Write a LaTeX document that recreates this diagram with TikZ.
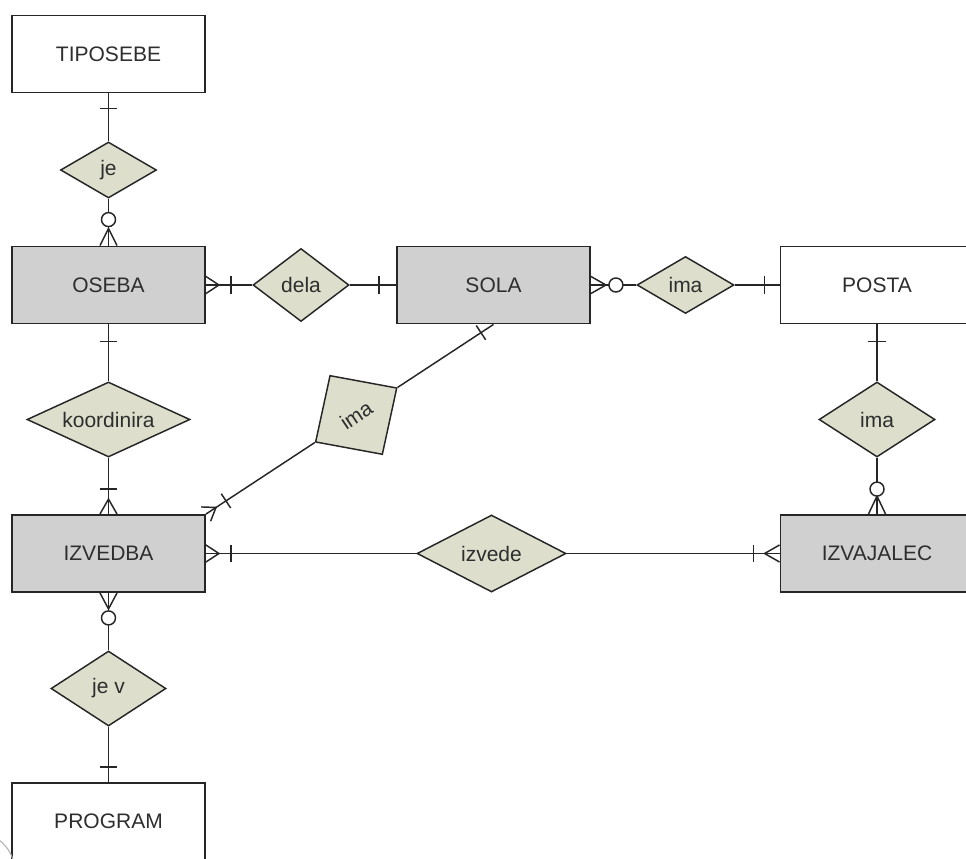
\documentclass[tikz,border=0pt]{standalone}
\usepackage{fontspec}
\setmainfont{Liberation Sans}
\usetikzlibrary{shapes.geometric,calc,decorations.markings}
\definecolor{linec}{HTML}{262626}
\definecolor{textc}{HTML}{2E2E2E}
\definecolor{entg}{HTML}{D0D0D0}
\definecolor{relc}{HTML}{DDDFCC}
\tikzset{
  lbl/.style={font=\fontsize{15.75pt}{18pt}\selectfont, text=textc},
  ent/.style={lbl, rectangle, draw=linec, line width=1.4pt, minimum width=144.75pt, minimum height=57.75pt, inner sep=0pt},
  entgray/.style={ent, fill=entg},
  entwhite/.style={ent, fill=white},
  rel/.style={lbl, diamond, draw=linec, line width=1.1pt, fill=relc, inner sep=0pt, shape aspect=2.5},
  conn/.style={draw=linec, line width=1.1pt},
  tickS/.style={postaction={decorate,decoration={markings,mark=at position #1 with {\draw[linec,line width=1.1pt] (0pt,-6.4pt) -- (0pt,6.4pt);}}}},
  tickE/.style={postaction={decorate,decoration={markings,mark=at position -#1 with {\draw[linec,line width=1.1pt] (0pt,-6.4pt) -- (0pt,6.4pt);}}}},
  crowS/.style={postaction={decorate,decoration={markings,mark=at position #1 with {\draw[linec,line width=1.1pt] (-#1,-6.4pt) -- (0pt,0pt) -- (-#1,6.4pt);}}}},
  crowE/.style={postaction={decorate,decoration={markings,mark=at position -#1 with {\draw[linec,line width=1.1pt] (#1,-6.4pt) -- (0pt,0pt) -- (#1,6.4pt);}}}},
  circS/.style={postaction={decorate,decoration={markings,mark=at position #1 with {\draw[linec,line width=1.1pt,fill=white] (0pt,0pt) circle (5.25pt);}}}},
  circE/.style={postaction={decorate,decoration={markings,mark=at position -#1 with {\draw[linec,line width=1.1pt,fill=white] (0pt,0pt) circle (5.25pt);}}}}
}
\begin{document}
\begin{tikzpicture}[x=0.75pt,y=-0.75pt]
\useasboundingbox (0,0) rectangle (966,859);
\clip (0,0) rectangle (966,859);
\fill[white] (0,0) rectangle (966,859);

% entities
\node[entwhite] (TIPOSEBE) at (108.5,54) {TIPOSEBE};
\node[entgray]  (OSEBA)    at (108.5,285) {OSEBA};
\node[entgray]  (SOLA)     at (493.5,285) {SOLA};
\node[entwhite] (POSTA)    at (877,285) {POSTA};
\node[entgray]  (IZVEDBA)  at (108.5,553.5) {IZVEDBA};
\node[entgray]  (IZVAJALEC) at (877,553.5) {IZVAJALEC};
\node[entwhite] (PROGRAM)  at (108.5,821.5) {PROGRAM};

% relationships
\node[rel, minimum width=72pt, minimum height=42pt] (je) at (108.5,170) {je};
\node[rel, minimum width=72pt, minimum height=54.75pt] (dela) at (301,285) {dela};
\node[rel, minimum width=72.75pt, minimum height=42.75pt] (imaA) at (685.5,285) {ima};
\node[rel, minimum width=122.25pt, minimum height=56.25pt] (koord) at (108.5,419.5) {koordinira};
\node[rel, minimum width=87pt, minimum height=56.25pt] (imaB) at (877,419.5) {ima};
\node[rel, minimum width=111.75pt, minimum height=57.75pt] (izvede) at (491.5,553.5) {izvede};
\node[rel, minimum width=86.25pt, minimum height=56.25pt] (jev) at (108.5,688.5) {je v};
\node[rel, rotate=33.64, minimum width=73.5pt, minimum height=71.25pt] (imaR) at ($(IZVEDBA.north east)!0.5225!(SOLA.south)$) {ima};

% connectors
\draw[conn, tickS=11.25pt] (TIPOSEBE) -- (je);
\draw[conn, crowE=12.75pt, circE=19.5pt] (je) -- (OSEBA);
\draw[conn, crowS=9.75pt, tickS=18.75pt] (OSEBA) -- (dela);
\draw[conn, tickE=12.75pt] (dela) -- (SOLA);
\draw[conn, crowS=11.25pt, circS=18.75pt] (SOLA) -- (imaA);
\draw[conn, tickE=11.25pt] (imaA) -- (POSTA);
\draw[conn, tickS=12.75pt] (POSTA) -- (imaB);
\draw[conn, crowE=13.5pt, circE=18.75pt] (imaB) -- (IZVAJALEC);
\draw[conn, tickS=12.75pt] (OSEBA) -- (koord);
\draw[conn, crowE=11.25pt, tickE=18.75pt] (koord) -- (IZVEDBA);
\draw[conn, crowS=9.75pt, tickS=18.75pt] (IZVEDBA) -- (izvede);
\draw[conn, crowE=11.25pt, tickE=19.5pt] (izvede) -- (IZVAJALEC);
\draw[conn, crowS=12pt, circS=18.75pt] (IZVEDBA) -- (jev);
\draw[conn, tickE=11.25pt] (jev) -- (PROGRAM);
\draw[conn, crowS=9pt, tickS=18pt] (IZVEDBA.north east) -- (imaR.west);
\draw[conn, tickE=11.25pt] (imaR.east) -- (SOLA.south);

% faint arc at lower left corner
\draw[black!30, line width=0.8pt] (-25,872) circle (40);
\end{tikzpicture}
\end{document}
